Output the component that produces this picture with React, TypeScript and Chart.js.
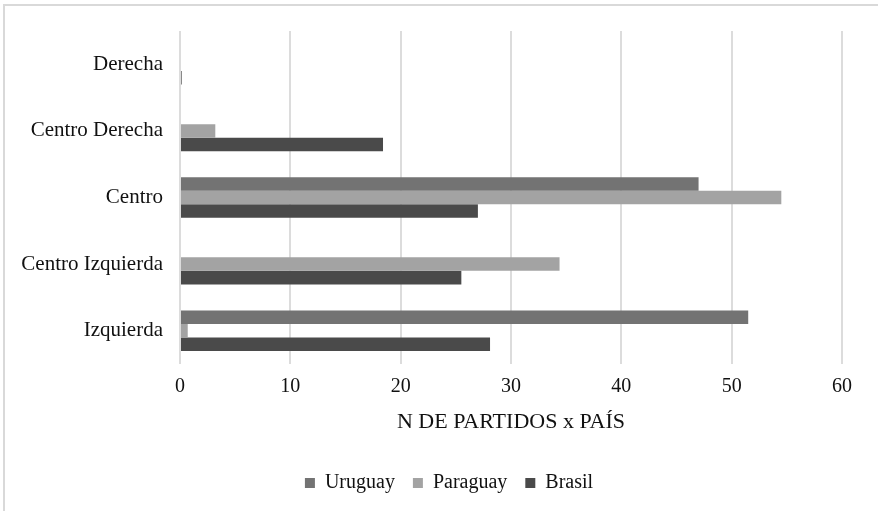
import React, { useEffect, useRef } from "react";
import { Chart, registerables } from "chart.js";

Chart.register(...registerables);

const categories = ["Derecha", "Centro Derecha", "Centro", "Centro Izquierda", "Izquierda"];
const uruguay = [0, 0, 47, 0, 51.5];
const paraguay = [0, 3.2, 54.5, 34.4, 0.7];
const brasil = [0.15, 18.4, 27, 25.5, 28.1];
const xTicks = [0, 10, 20, 30, 40, 50, 60];
const axisTitle = "N DE PARTIDOS x PAÍS";

const FONT = "Liberation Serif";

const shiftLegend = {
  id: "shiftLegend",
  afterLayout(chart: any) {
    const lg = chart.legend;
    if (lg) {
      lg.left += 28;
      lg.right += 28;
    }
  },
};

export default function App() {
  const ref = useRef<HTMLCanvasElement | null>(null);

  useEffect(() => {
    document.body.style.margin = "0";
    const canvas = ref.current;
    if (!canvas) return;
    const chart = new Chart(canvas, {
      type: "bar",
      data: {
        labels: categories,
        datasets: [
          { label: "Uruguay", data: uruguay, backgroundColor: "#737373" },
          { label: "Paraguay", data: paraguay, backgroundColor: "#a3a3a3" },
          { label: "Brasil", data: brasil, backgroundColor: "#4a4a4a" },
        ],
      },
      plugins: [shiftLegend],
      options: {
        indexAxis: "y",
        animation: false,
        responsive: false,
        maintainAspectRatio: false,
        datasets: { bar: { categoryPercentage: 0.61, barPercentage: 1 } },
        layout: { padding: { top: 31, right: 36, bottom: 8, left: 0 } },
        scales: {
          x: {
            min: 0,
            max: 60,
            afterBuildTicks: (s: any) => {
              s.ticks = xTicks.map((v) => ({ value: v }));
            },
            afterFit: (s: any) => {
              s.height = 91;
            },
            grid: { color: "#dcdcdc", lineWidth: 2, drawTicks: false },
            border: { display: false },
            ticks: { font: { family: FONT, size: 20 }, color: "#111", padding: 11 },
            title: {
              display: true,
              text: axisTitle,
              font: { family: FONT, size: 22 },
              color: "#111",
              padding: { top: 0, bottom: 20 },
            },
          },
          y: {
            grid: { display: false, drawTicks: false },
            border: { display: false },
            ticks: { font: { family: FONT, size: 21 }, color: "#111", padding: 17 },
            afterFit: (s: any) => {
              s.width = 180;
            },
          },
        },
        plugins: {
          legend: {
            position: "bottom",
            labels: {
              font: { family: FONT, size: 20 },
              color: "#111",
              boxWidth: 10,
              boxHeight: 10,
              padding: 18,
            },
          },
          tooltip: { enabled: false },
        },
      },
    });
    return () => chart.destroy();
  }, []);

  return (
    <div style={{ position: "relative", width: 878, height: 511, background: "#fff", overflow: "hidden" }}>
      <div
        style={{
          position: "absolute",
          left: 3,
          top: 4,
          width: 900,
          height: 600,
          borderTop: "2px solid #d9d9d9",
          borderLeft: "2px solid #d9d9d9",
          boxSizing: "border-box",
        }}
      />
      <canvas ref={ref} width={878} height={511} style={{ position: "absolute", left: 0, top: 0 }} />
    </div>
  );
}
